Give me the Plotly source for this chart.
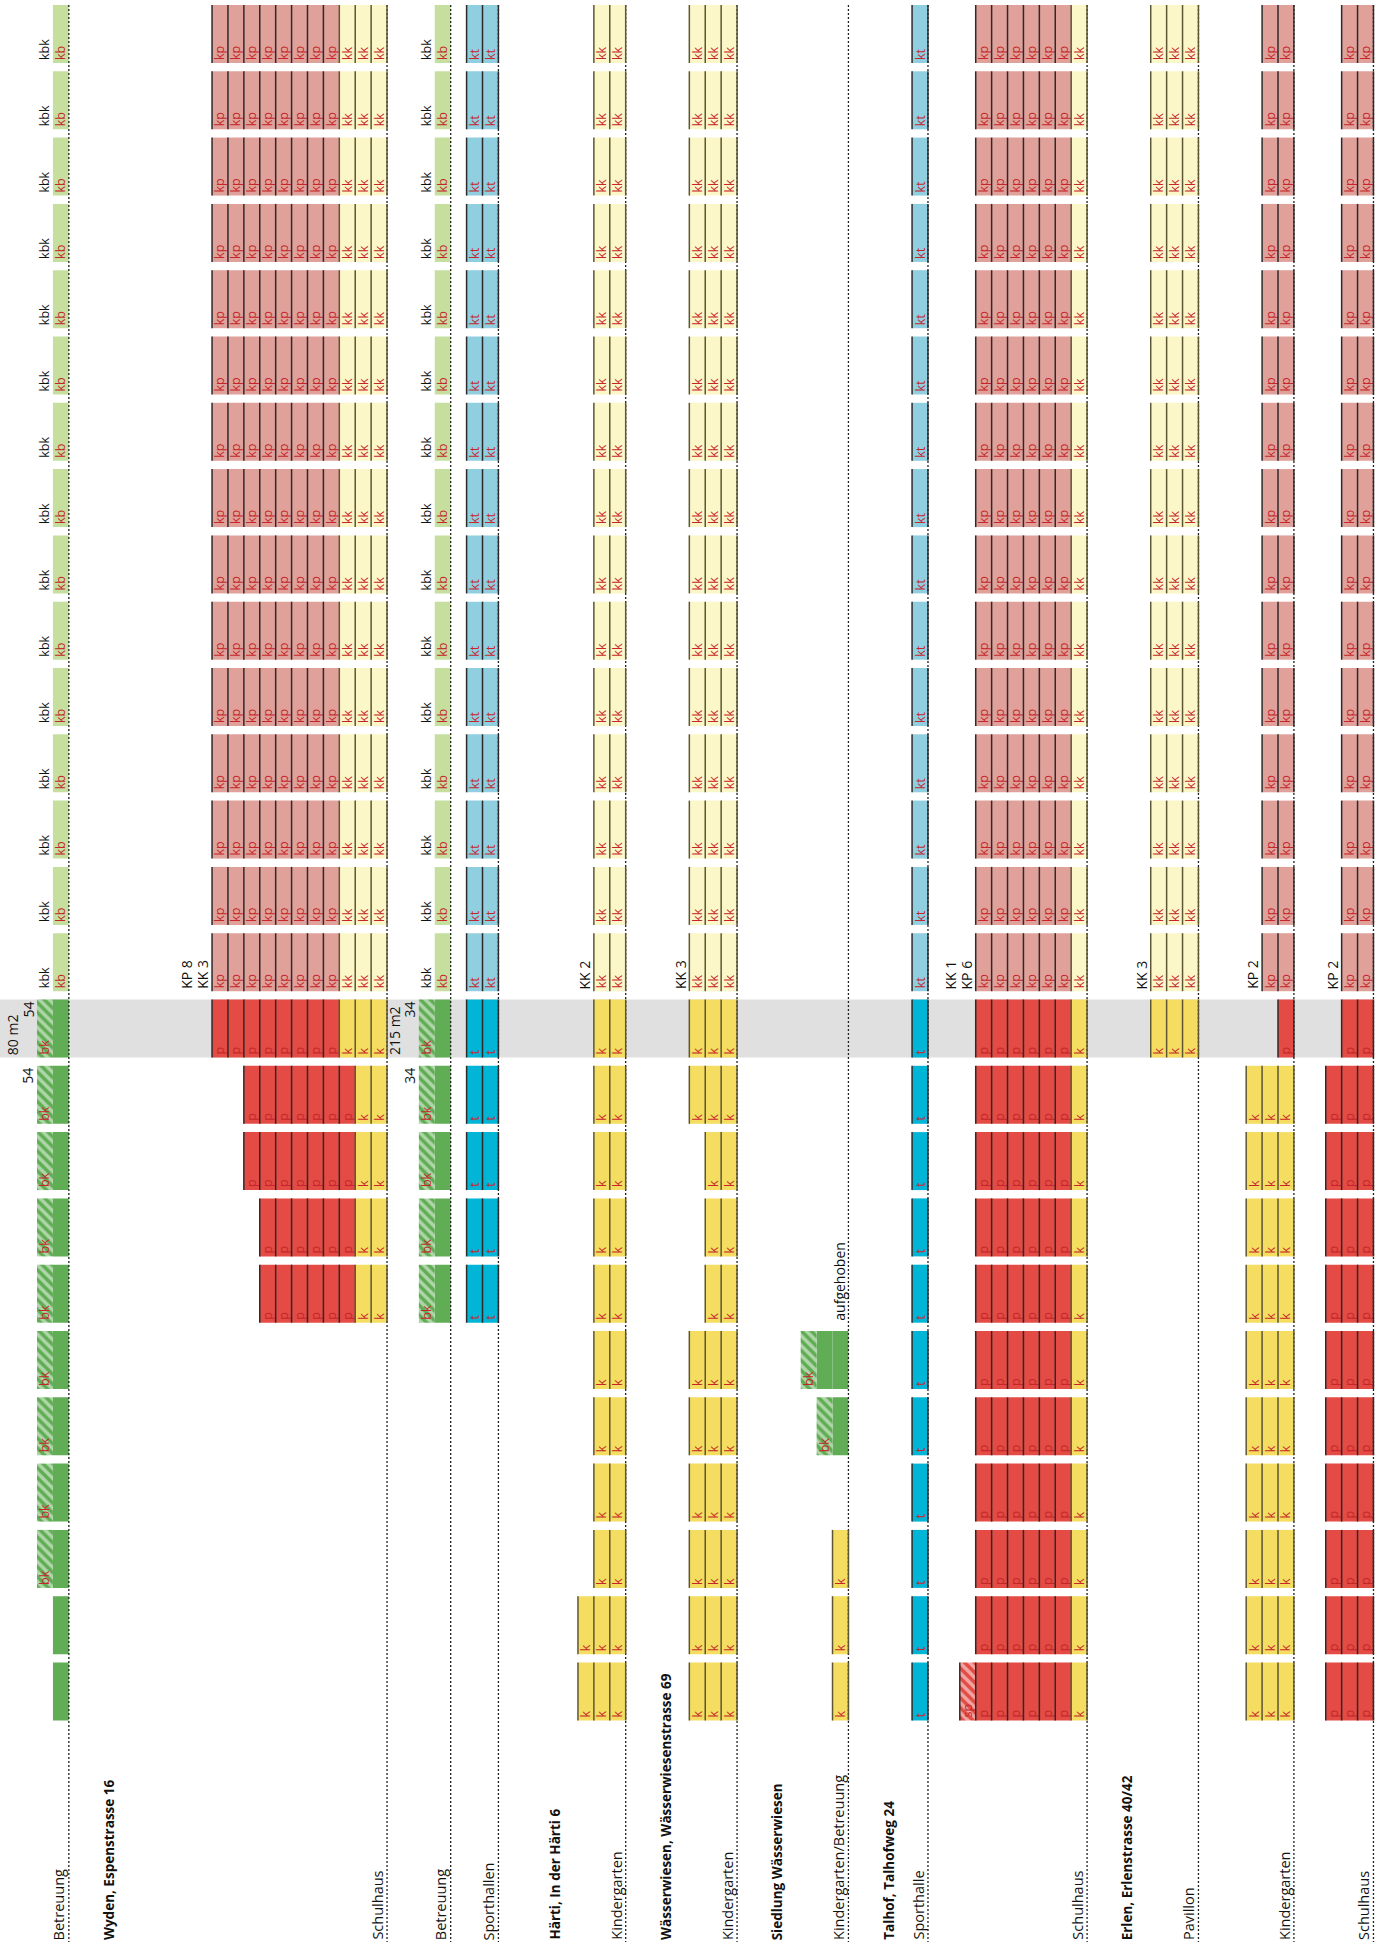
import plotly.graph_objects as go

# ---------------- data ----------------
N_ROWS = 26          # time periods (top = future/planned, bottom = past)
CURRENT_ROW = 15     # highlighted period

# cell codes: A=kp  B=kk  C=kb  D=kt  P=p  K=k  G=green  H=bk (hatched)  T=t  S=sp (hatched)  L=kbk label
# each group: (first column, [(number of periods, cell codes across the group's columns), ...])
wyden_betreuung_1 = (2, [(15, "LC"), (9, "HG"), (2, ".G")])
wyden_schulhaus = (13, [(15, "AAAAAAAABBB"), (1, "PPPPPPPPKKK"), (2, "..PPPPPPPKK"),
                        (2, "...PPPPPPKK"), (6, "...........")])
wyden_betreuung_2 = (26, [(15, "LC"), (5, "HG"), (6, "..")])
wyden_sporthallen = (29, [(15, "DD"), (5, "TT"), (6, "..")])
haerti_kindergarten = (36, [(15, ".BB"), (9, ".KK"), (2, "KKK")])
waesserwiesen_kindergarten = (43, [(15, "BBB"), (2, "KKK"), (3, ".KK"), (6, "KKK")])
siedlung_kindergarten = (50, [(20, "..."), (1, "HGG"), (1, ".HG"), (1, "..."), (3, "..K")])
talhof_sporthalle = (57, [(15, "D"), (11, "T")])
talhof_schulhaus = (60, [(15, ".AAAAAAB"), (10, ".PPPPPPK"), (1, "SPPPPPPK")])
erlen_pavillon = (72, [(15, "BBB"), (1, "KKK"), (10, "...")])
erlen_kindergarten = (78, [(15, ".AA"), (1, "..P"), (10, "KKK")])
erlen_schulhaus = (83, [(15, ".AA"), (1, ".PP"), (10, "PPP")])

groups = [wyden_betreuung_1, wyden_schulhaus, wyden_betreuung_2, wyden_sporthallen,
          haerti_kindergarten, waesserwiesen_kindergarten, siedlung_kindergarten,
          talhof_sporthalle, talhof_schulhaus, erlen_pavillon, erlen_kindergarten,
          erlen_schulhaus]
group_labels = ["Betreuung", "Schulhaus", "Betreuung", "Sporthallen", "Kindergarten",
                "Kindergarten", "Kindergarten/Betreuung", "Sporthalle", "Schulhaus",
                "Pavillon", "Kindergarten", "Schulhaus"]

site_titles = ["Wyden, Espenstrasse 16", "Härti, In der Härti 6",
               "Wässerwiesen, Wässerwiesenstrasse 69", "Siedlung Wässerwiesen",
               "Talhof, Talhofweg 24", "Erlen, Erlenstrasse 40/42"]
site_title_cols = [6, 34, 41, 48, 55, 70]

note_texts = ["KP 8", "KK 3", "KK 2", "KK 3", "KK 1", "KP 6", "KK 3", "KP 2", "KP 2",
              "80 m2", "54", "54", "215 m2", "34", "34", "aufgehoben"]
note_cols = [11, 12, 36, 42, 59, 60, 71, 78, 83, 0, 1, 1, 24, 25, 25, 52]
note_rows = [14, 14, 14, 14, 14, 14, 14, 14, 14, 15, 15, 16, 15, 15, 16, 19]
note_align = ["bottom"] * 9 + ["bottom", "top", "top", "bottom", "top", "top", "bottom"]

# ---------------- styles ----------------
RED_TXT = "#c4262a"
DARK = "#2e2a2a"
OLIVE = "#5d5634"
STYLE = {
    "A": dict(fill="#e0a19b", text="kp", border=DARK),
    "B": dict(fill="#fcf7c9", text="kk", border=OLIVE),
    "C": dict(fill="#c6df9f", text="kb", border=None),
    "D": dict(fill="#90cfe0", text="kt", border=DARK),
    "P": dict(fill="#e34b44", text="p", border=DARK),
    "K": dict(fill="#f4dd60", text="k", border=OLIVE),
    "G": dict(fill="#60ad55", text="", border=None),
    "H": dict(fill="#5fac53", text="bk", border=None, hatch=True),
    "T": dict(fill="#00b5d6", text="t", border=DARK),
    "S": dict(fill="#e34b44", text="sp", border=DARK, hatch=True),
    "L": dict(fill="rgba(0,0,0,0)", text="kbk", border=None, txtcolor="#111111"),
}
FONT = "Open Sans, Noto Sans, DejaVu Sans, sans-serif"
LABEL_SIZE = 14.5
TITLE_SIZE = 13.5
NOTE_SIZE = 14
CELL_SIZE = 12.5

W_PX, H_PX = 1389, 1946
COL_PX, X0_PX = 15.91, 5.2
ROW_PX, Y0_PX = 66.3, 5.0
CELL_H = 58.0 / ROW_PX
LABEL_BASE = (1942.0 - Y0_PX) / ROW_PX

xrange_ = [-X0_PX / COL_PX, (W_PX - X0_PX) / COL_PX]
yrange_ = [(H_PX - Y0_PX) / ROW_PX, -Y0_PX / ROW_PX]

# ---------------- build cells ----------------
cells = {k: dict(x=[], base=[], text=[]) for k in STYLE}
border = {DARK: dict(x=[], y=[]), OLIVE: dict(x=[], y=[])}
group_ends = []

for first_col, runs in groups:
    ncols = len(runs[0][1])
    group_ends.append(first_col + ncols)
    r = 0
    for n, codes in runs:
        for rr in range(r, r + n):
            for j, code in enumerate(codes):
                c = first_col + j
                if code != ".":
                    st = STYLE[code]
                    cells[code]["x"].append(c + 0.5)
                    cells[code]["base"].append(rr)
                    cells[code]["text"].append(st["text"])
                    if st["border"]:
                        border[st["border"]]["x"] += [c, c, None]
                        border[st["border"]]["y"] += [rr, rr + CELL_H, None]
                nxt = codes[j + 1] if j + 1 < len(codes) else "."
                cur_b = STYLE[code]["border"] if code != "." else None
                nxt_b = STYLE[nxt]["border"] if nxt != "." else None
                if cur_b and not nxt_b:
                    border[cur_b]["x"] += [c + 1, c + 1, None]
                    border[cur_b]["y"] += [rr, rr + CELL_H, None]
        r += n

fig = go.Figure()

# dashed separators at the right edge of each group
dx, dy = [], []
for e in group_ends:
    dx += [e, e, None]
    dy += [0, LABEL_BASE, None]
fig.add_trace(go.Scatter(x=dx, y=dy, mode="lines", hoverinfo="skip",
                         line=dict(color="#222222", width=1.3, dash="2px,2px")))

for code, st in STYLE.items():
    d = cells[code]
    if not d["x"]:
        continue
    marker = dict(color=st["fill"], line=dict(width=0))
    if st.get("hatch"):
        marker = dict(color=st["fill"], line=dict(width=0),
                      pattern=dict(shape="\\", fgcolor="white", bgcolor=st["fill"],
                                   fillmode="overlay", size=7, solidity=0.5))
    fig.add_trace(go.Bar(
        x=d["x"], y=[CELL_H] * len(d["x"]), base=d["base"], width=1.0,
        marker=marker, text=d["text"], textposition="inside",
        insidetextanchor="end", textangle=-90, constraintext="none",
        textfont=dict(family=FONT, size=CELL_SIZE, color=st.get("txtcolor", RED_TXT)),
        hoverinfo="skip", cliponaxis=False))

for colr, d in border.items():
    fig.add_trace(go.Scatter(x=d["x"], y=d["y"], mode="lines", hoverinfo="skip",
                             line=dict(color=colr, width=1.5)))

# highlighted current period
fig.add_shape(type="rect", layer="below", xref="x", yref="y",
              x0=xrange_[0], x1=max(group_ends), y0=CURRENT_ROW, y1=CURRENT_ROW + CELL_H,
              fillcolor="#e0e0e0", line=dict(width=0))

ann = []
for lab, e in zip(group_labels, group_ends):
    ann.append(dict(x=e - 0.5, y=LABEL_BASE, text=lab, textangle=-90, showarrow=False,
                    xanchor="center", yanchor="bottom", xshift=-2,
                    font=dict(family=FONT, size=LABEL_SIZE, color="#111111")))
for t, c in zip(site_titles, site_title_cols):
    ann.append(dict(x=c + 0.5, y=LABEL_BASE, text="<b>" + t + "</b>", textangle=-90,
                    showarrow=False, xanchor="center", yanchor="bottom",
                    font=dict(family=FONT, size=TITLE_SIZE, color="#111111")))
for t, c, r, a in zip(note_texts, note_cols, note_rows, note_align):
    y = r + CELL_H if a == "bottom" else r
    ann.append(dict(x=c + 0.5, y=y, text=t, textangle=-90, showarrow=False,
                    xanchor="center", yanchor=a, xshift=-1,
                    font=dict(family=FONT, size=NOTE_SIZE, color="#111111")))

fig.update_layout(
    width=W_PX, height=H_PX, margin=dict(l=0, r=0, t=0, b=0),
    paper_bgcolor="white", plot_bgcolor="white", showlegend=False,
    barmode="overlay", annotations=ann,
    xaxis=dict(range=xrange_, visible=False, fixedrange=True),
    yaxis=dict(range=yrange_, visible=False, fixedrange=True),
)

fig.write_html("out.html", config={"displayModeBar": False},
               post_script="document.body.style.margin='0';")
